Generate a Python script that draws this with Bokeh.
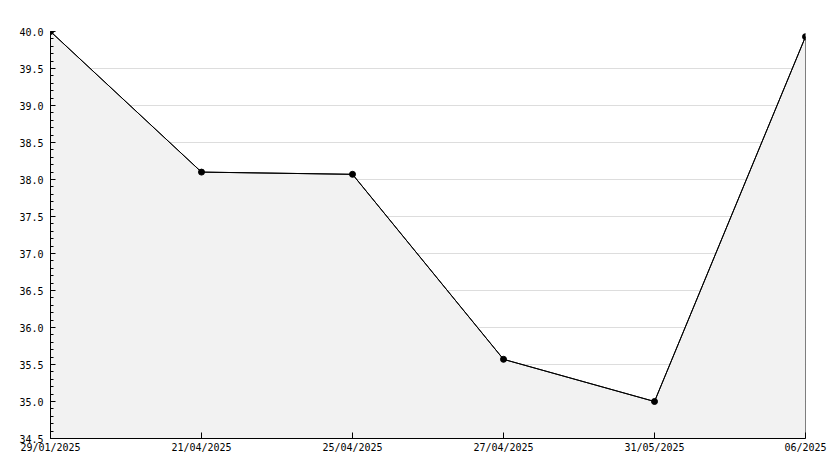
from bokeh.plotting import figure
from bokeh.models import FixedTicker, SingleIntervalTicker, Range1d, NumeralTickFormatter
from bokeh.embed import file_html
from bokeh.resources import INLINE

dates = ["29/01/2025", "21/04/2025", "25/04/2025", "27/04/2025", "31/05/2025", "06/2025"]
values = [40.0, 38.1, 38.07, 35.57, 35.0, 39.93]
y_min, y_max = 34.5, 40.0

idx = list(range(len(dates)))

p = figure(width=834, height=468, output_backend="svg", toolbar_location=None,
           x_range=Range1d(0, len(dates) - 1), y_range=Range1d(y_min, y_max),
           min_border_left=50, min_border_right=29, min_border_top=31, min_border_bottom=30)
p.outline_line_color = None
p.background_fill_color = "white"
p.border_fill_color = "white"

# filled area with outline
xs = idx + [idx[-1], idx[0]]
ys = values + [y_min, y_min]
p.patch(xs, ys, fill_color="#f2f2f2", line_color="black", line_width=1)
p.line(idx, values, line_color="black", line_width=1)
p.scatter(idx, values, size=6, marker="circle", color="black")

font = "DejaVu Sans Mono"

p.xaxis.ticker = FixedTicker(ticks=idx)
p.xaxis.major_label_overrides = {i: d for i, d in zip(idx, dates)}
p.xaxis.major_tick_in = 6
p.xaxis.major_tick_out = 0
p.xaxis.minor_tick_in = 0
p.xaxis.minor_tick_out = 0
p.xaxis.major_label_standoff = 3
p.xaxis.axis_line_color = "black"
p.xaxis.major_tick_line_color = "black"
p.xaxis.major_label_text_font = font
p.xaxis.major_label_text_font_size = "10px"
p.xaxis.major_label_text_color = "black"

p.yaxis.ticker = SingleIntervalTicker(interval=0.5, num_minor_ticks=5)
p.yaxis.formatter = NumeralTickFormatter(format="0.0")
p.yaxis.major_tick_in = 5
p.yaxis.major_tick_out = 0
p.yaxis.minor_tick_in = 3
p.yaxis.minor_tick_out = 0
p.yaxis.major_label_standoff = 7
p.yaxis.axis_line_color = "black"
p.yaxis.major_tick_line_color = "black"
p.yaxis.minor_tick_line_color = "black"
p.yaxis.major_label_text_font = font
p.yaxis.major_label_text_font_size = "10px"
p.yaxis.major_label_text_color = "black"

p.xgrid.grid_line_color = None
p.ygrid.grid_line_color = "#dddddd"
p.ygrid.grid_line_width = 1
p.ygrid.level = "underlay"

open("out.html", "w").write(file_html(p, INLINE))
